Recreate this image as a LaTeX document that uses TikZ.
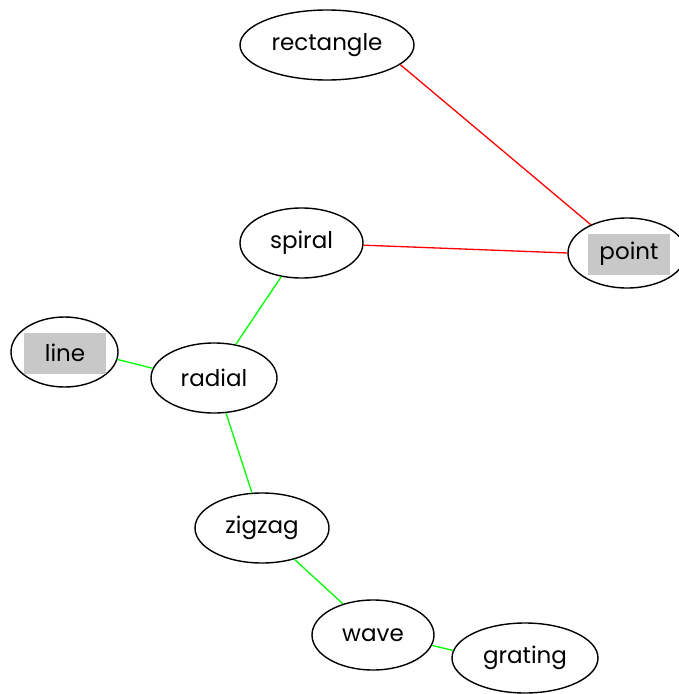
\documentclass[tikz,border=0pt]{standalone}
\usepackage{fontspec}
\setmainfont{Poppins}
\usetikzlibrary{shapes.geometric}
\definecolor{boxgray}{RGB}{200,200,200}
\definecolor{linkgreen}{RGB}{0,255,0}
\definecolor{linkred}{RGB}{255,0,0}
\tikzset{
  term/.style={draw=black, line width=1.4pt, ellipse, minimum height=70pt, inner sep=0pt, font=\fontsize{23}{26}\selectfont},
  tag/.style={fill=boxgray, minimum width=82pt, minimum height=41pt, inner sep=0pt, font=\fontsize{23}{26}\selectfont},
  hot/.style={draw=linkred, line width=1.3pt},
  cool/.style={draw=linkgreen, line width=1.3pt},
}
\begin{document}
\begin{tikzpicture}[x=1pt, y=-1pt]
\useasboundingbox (0,0) rectangle (678,694);
% term nodes
\node[term, minimum width=174pt] (rectangle) at (327,45) {rectangle};
\node[term, minimum width=118pt] (point) at (627,253) {};
\node[tag] (pointtag) at (629,254) {point};
\node[term, minimum width=123pt] (spiral) at (301.5,243) {spiral};
\node[term, minimum width=107pt] (line) at (64.5,352) {};
\node[tag] (linetag) at (65,353) {line};
\node[term, minimum width=126pt] (radial) at (214,378) {radial};
\node[term, minimum width=134pt] (zigzag) at (262,528) {zigzag};
\node[term, minimum width=122pt] (wave) at (373,635) {wave};
\node[term, minimum width=146pt] (grating) at (525,658) {grating};
% links
\draw[hot] (rectangle.-15) -- (point.142);
\draw[hot] (spiral.-2) -- (point.180);
\draw[cool] (spiral.-121) -- (radial.57);
\draw[cool] (line.-8) -- (radial.171);
\draw[cool] (radial.-71) -- (zigzag.106);
\draw[cool] (zigzag.-44) -- (wave.134);
\draw[cool] (wave.-10) -- (grating.174);
\end{tikzpicture}
\end{document}
